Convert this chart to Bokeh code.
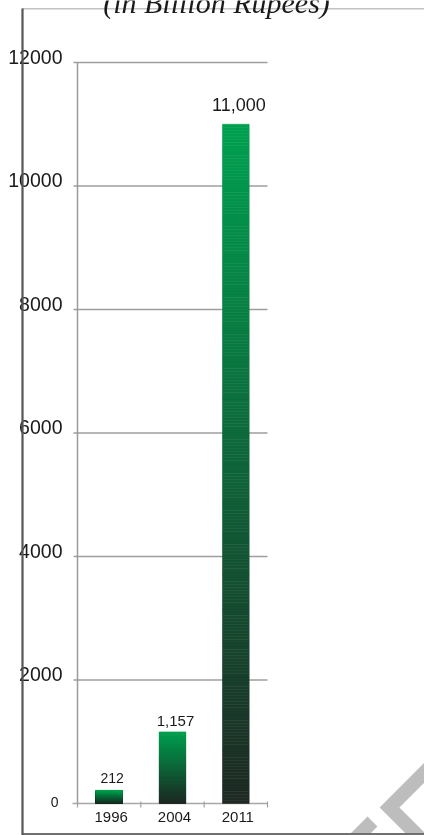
import numpy as np
from bokeh.plotting import figure
from bokeh.models import Range1d
from bokeh.core.properties import value
from bokeh.embed import file_html
from bokeh.resources import INLINE

# ---- data ----
years = ["1996", "2004", "2011"]
amounts = [212, 1157, 11000]
amount_labels = ["212", "1,157", "11,000"]
y_ticks = [0, 2000, 4000, 6000, 8000, 10000, 12000]
y_tick_labels = ["0", "2000", "4000", "6000", "8000", "10000", "12000"]
title_text = "(in Billion Rupees)"

# ---- layout (pixels) ----
W, H = 424, 835
PL, PR, PT, PB = 77, 267, 62, 803
YMAX = y_ticks[-1]
ux = (PR - PL) / len(years)
uy = (PB - PT) / YMAX


def dx(px):
    return (px - PL) / ux


def dy(py):
    return (PB - py) / uy


FONT = value("Liberation Sans")

p = figure(width=W, height=H, output_backend="svg", toolbar_location=None,
           x_range=Range1d(dx(0), dx(W)), y_range=Range1d(dy(H), dy(0)),
           x_axis_location=None, y_axis_location=None, min_border=0)
p.grid.visible = False
p.outline_line_color = None
p.background_fill_color = "white"
p.border_fill_color = "white"
p.styles = {"position": "fixed", "top": "0px", "left": "0px"}

# ---- grid & axes ----
grid_vals = [t for t in y_ticks if t > 0]
p.segment(x0=dx(73), y0=grid_vals, x1=dx(PR), y1=grid_vals,
          line_color="#9e9e9e", line_width=1.6)
p.segment(x0=[dx(72)], y0=[0], x1=[dx(PR)], y1=[0], line_color="#a8a8a8", line_width=1.4)
p.segment(x0=[0], y0=[0], x1=[0], y1=[YMAX], line_color="#9a9a9a", line_width=1.5)
tick_x = list(range(0, len(years) + 1))
p.segment(x0=tick_x, y0=dy(PB - 2), x1=tick_x, y1=dy(PB + 4),
          line_color="#a0a0a0", line_width=1.2)

# ---- gradient bars ----
N = 220
dark = np.array([0x1e, 0x29, 0x23])
green = np.array([0x00, 0xa0, 0x50])
bw = 0.42
L, R, B, T, C = [], [], [], [], []
for i, v in enumerate(amounts):
    for k in range(N):
        t = (k + 0.5) / N
        col = dark + (green - dark) * t
        L.append(i + 0.5 - bw / 2)
        R.append(i + 0.5 + bw / 2)
        B.append(v * k / N)
        T.append(v * (k + 1) / N)
        C.append("#%02x%02x%02x" % tuple(int(round(c)) for c in col))
p.quad(left=L, right=R, bottom=B, top=T, fill_color=C, line_color=C, line_width=0.6)

# ---- value labels ----
centers = [i + 0.5 for i in range(len(years))]
val_sizes = ["14px", "15px", "18px"]
val_offsets = [-12, -11, -20]
p.text(x=centers, y=amounts, text=amount_labels, text_align="center",
       text_baseline="alphabetic", x_offset=3, y_offset=val_offsets,
       text_font=FONT, text_font_size=val_sizes, text_color="#1a1a1a")

# ---- category labels ----
p.text(x=centers, y=[dy(816)] * len(years), text=years, text_align="center",
       text_baseline="alphabetic", x_offset=2, text_font=FONT,
       text_font_size="15px", text_color="#1a1a1a")

# ---- y tick labels ----
p.text(x=[dx(62)] * (len(y_ticks) - 1), y=y_ticks[1:], text=y_tick_labels[1:],
       text_align="right", text_baseline="middle", y_offset=-6,
       text_font=FONT, text_font_size="19.5px", text_color="#1a1a1a")
p.text(x=[dx(58)], y=[y_ticks[0]], text=[y_tick_labels[0]],
       text_align="right", text_baseline="middle", y_offset=-2,
       text_font=FONT, text_font_size="14px", text_color="#1a1a1a")

# ---- watermark ----
p.line(x=[dx(432), dx(389), dx(432)], y=[dy(764), dy(807), dy(850)],
       line_color="#bdbdbd", line_width=14, line_join="miter", line_cap="butt")
p.line(x=[dx(346), dx(372)], y=[dy(847), dy(821)],
       line_color="#bdbdbd", line_width=14, line_cap="butt")

# ---- page frame ----
p.segment(x0=[dx(22)], y0=[dy(8.3)], x1=[dx(W)], y1=[dy(8.3)], line_color="#c4c4c4", line_width=1.6)
p.segment(x0=[dx(22)], y0=[dy(833.5)], x1=[dx(W)], y1=[dy(833.5)], line_color="#707070", line_width=2)
p.segment(x0=[dx(22)], y0=[dy(8)], x1=[dx(22)], y1=[dy(H)], line_color="#555555", line_width=2.2)

# ---- title ----
p.text(x=[dx(216)], y=[dy(2)], text=[title_text], text_align="center",
       text_baseline="alphabetic", text_font=value("Liberation Serif"),
       text_font_style="italic", text_font_size="30px", text_color="#1a1a1a")

open("out.html", "w").write(file_html(p, INLINE))
